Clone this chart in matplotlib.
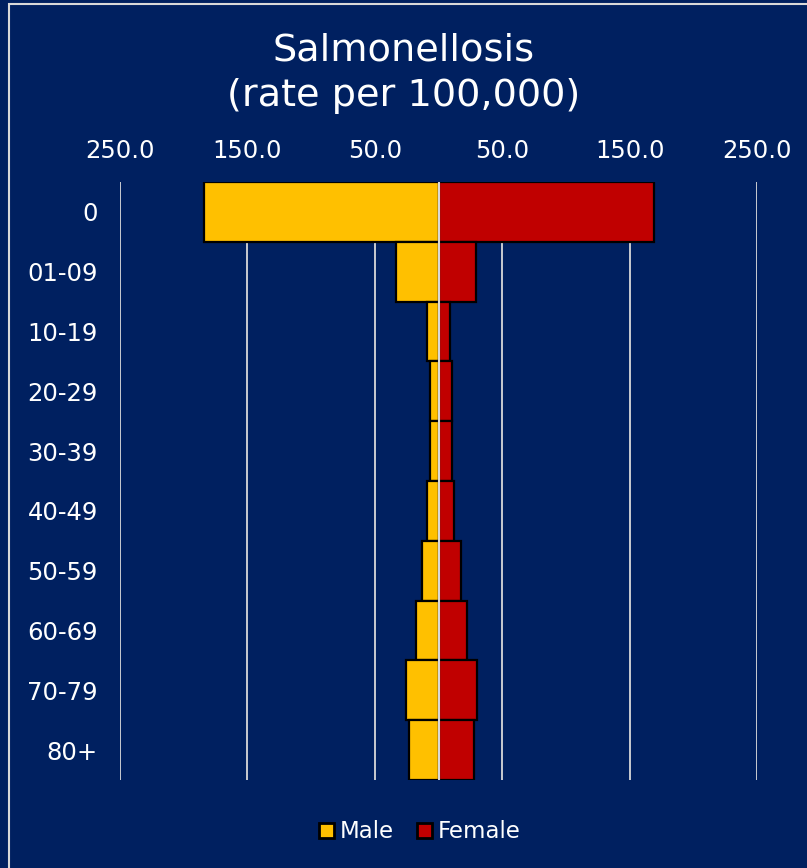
import numpy as np
import matplotlib.pyplot as plt
from matplotlib.patches import Rectangle, Patch
from matplotlib.ticker import FuncFormatter

age_groups = ['0', '01-09', '10-19', '20-29', '30-39', '40-49', '50-59', '60-69', '70-79', '80+']
male = [184.2, 33.0, 9.3, 6.4, 6.9, 8.7, 12.6, 17.3, 25.7, 23.2]
female = [168.8, 29.8, 8.8, 10.6, 10.9, 12.2, 17.4, 22.7, 30.0, 27.8]
x_ticks = [-250, -150, -50, 50, 150, 250]

bg = '#002060'
male_col = '#FFC000'
female_col = '#C00000'
grid_col = '#D9D9D9'

plt.rcParams['font.family'] = ['DejaVu Sans']

fig = plt.figure(figsize=(8.07, 8.68), dpi=100, facecolor=bg)
ax = fig.add_axes([120 / 807, 1 - 780 / 868, 637 / 807, 598 / 868])
ax.set_facecolor(bg)

y = np.arange(len(age_groups))
ax.barh(y, [-v for v in male], height=1.0, color=male_col, edgecolor='black', linewidth=1.6, zorder=2)
ax.barh(y, female, height=1.0, color=female_col, edgecolor='black', linewidth=1.6, zorder=2)
ax.axvline(0, color=grid_col, linewidth=1.5, zorder=3)

ax.set_xlim(-250, 250)
ax.set_ylim(len(age_groups) - 0.5, -0.5)
ax.set_xticks(x_ticks)
ax.xaxis.set_major_formatter(FuncFormatter(lambda v, p: f'{abs(v):.1f}'))
ax.xaxis.tick_top()
ax.set_yticks(y)
ax.set_yticklabels(age_groups)
ax.tick_params(axis='x', colors='white', labelsize=17.5, length=0, pad=14)
ax.tick_params(axis='y', colors='white', labelsize=17.5, length=0, pad=16)
ax.grid(axis='x', color=grid_col, linewidth=1.3, zorder=0)
ax.set_axisbelow(True)
for s in ax.spines.values():
    s.set_visible(False)

fig.text(0.5, 1 - 73 / 868, 'Salmonellosis\n(rate per 100,000)', ha='center', va='center',
         color='white', fontsize=27.5, linespacing=1.35)

handles = [Patch(facecolor=male_col, edgecolor='black', linewidth=2, label='Male'),
           Patch(facecolor=female_col, edgecolor='black', linewidth=2, label='Female')]
leg = fig.legend(handles=handles, loc='center', bbox_to_anchor=(420 / 807, 1 - 832 / 868), ncol=2,
                 frameon=False, fontsize=16.5, handlelength=0.65, handleheight=0.65,
                 handletextpad=0.25, columnspacing=1.0, labelcolor='white')

fig.patches.append(Rectangle((9 / 807, -0.05), 1.2, 1 - 4 / 868 + 0.05, transform=fig.transFigure,
                             fill=False, edgecolor='#D9D9D9', linewidth=1.5))

fig.savefig('out.png', dpi=100, facecolor=bg)
